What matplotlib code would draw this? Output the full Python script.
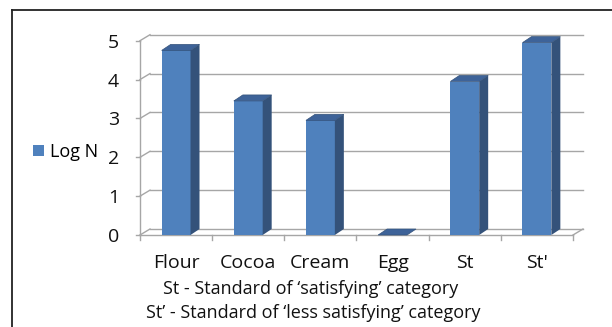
import matplotlib
matplotlib.use("Agg")
import matplotlib.pyplot as plt
from matplotlib.patches import Polygon, Rectangle
from matplotlib.lines import Line2D

plt.rcParams['font.family'] = ['Open Sans', 'DejaVu Sans']

categories = ['Flour', 'Cocoa', 'Cream', 'Egg', 'St', "St'"]
log_n = [4.75, 3.45, 2.95, 0.0, 3.95, 4.95]
yticks = [0, 1, 2, 3, 4, 5]
notes = ["St - Standard of \u2018satisfying\u2019 category",
         "St\u2019 - Standard of \u2018less satisfying\u2019 category"]

front = '#4f81bd'
side = '#34527a'
top = '#3e6399'
grid = '#a6a6a6'

W, H = 612, 327
fig = plt.figure(figsize=(W / 100, H / 100), dpi=100)

# outer frame (only top and left edges visible)
fig.add_artist(Line2D([12 / W, 1.0], [1 - 10 / H, 1 - 10 / H], color='#222222', lw=1.3))
fig.add_artist(Line2D([12 / W, 12 / W], [0, 1 - 10 / H], color='#222222', lw=1.3))

ax = fig.add_axes([140 / W, (H - 235) / H, 433 / W, 194.3 / H])
ax.set_xlim(-0.5, len(categories) - 0.5)
ax.set_ylim(0, 5)
for s in ax.spines.values():
    s.set_visible(False)

# depth of the back wall and of the bars, in data units
wdx, wdy = 10 / 72.2, 6 / 38.9
bdx, bdy = 9 / 72.2, 6 / 38.9
x0, x1 = -0.5, len(categories) - 0.5

for v in yticks:
    ax.plot([x0, x0 + wdx], [v, v + wdy], color=grid, lw=1, clip_on=False, zorder=1)
    ax.plot([x0 + wdx, x1 + wdx], [v + wdy, v + wdy], color=grid, lw=1, clip_on=False, zorder=1)
    ax.plot([x0 - 0.05, x0], [v, v], color=grid, lw=1, clip_on=False, zorder=1)
ax.plot([x0, x0], [0, 5], color=grid, lw=1, clip_on=False, zorder=1)
ax.plot([x0, x1], [0, 0], color=grid, lw=1, clip_on=False, zorder=1)
ax.plot([x1, x1 + wdx], [0, wdy], color=grid, lw=1, clip_on=False, zorder=1)
for i in range(len(categories) + 1):
    xb = i - 0.5
    ax.plot([xb, xb], [0, -0.12], color=grid, lw=1, clip_on=False, zorder=1)

width = 0.4
ax.bar(range(len(categories)), log_n, width=width, color=front, zorder=3, label='Log N')
for i, v in enumerate(log_n):
    l, r = i - width / 2, i + width / 2
    ax.add_patch(Polygon([(r, 0), (r + bdx, bdy), (r + bdx, v + bdy), (r, v)],
                         closed=True, facecolor=side, edgecolor='none', zorder=3, clip_on=False))
    ax.add_patch(Polygon([(l, v), (l + bdx, v + bdy), (r + bdx, v + bdy), (r, v)],
                         closed=True, facecolor=top, edgecolor=side, lw=0.5, zorder=4, clip_on=False))

ax.set_yticks(yticks)
ax.set_xticks(range(len(categories)))
ax.set_xticklabels(categories)
ax.tick_params(axis='both', length=0, colors='#111111')
ax.tick_params(axis='y', pad=15, labelsize=14)
ax.tick_params(axis='x', pad=14, labelsize=14)

fig.legend(handles=[Rectangle((0, 0), 1, 1, facecolor=front)], labels=['Log N'],
           loc='center left', bbox_to_anchor=(17 / W, 1 - 152 / H), frameon=False,
           fontsize=13, handlelength=0.6, handleheight=0.6, handletextpad=0.35)

fig.text(311 / W, 1 - 289 / H, notes[0], ha='center', va='center', fontsize=13, color='#111111')
fig.text(313 / W, 1 - 313 / H, notes[1], ha='center', va='center', fontsize=13, color='#111111')

fig.savefig('out.png', dpi=100)
